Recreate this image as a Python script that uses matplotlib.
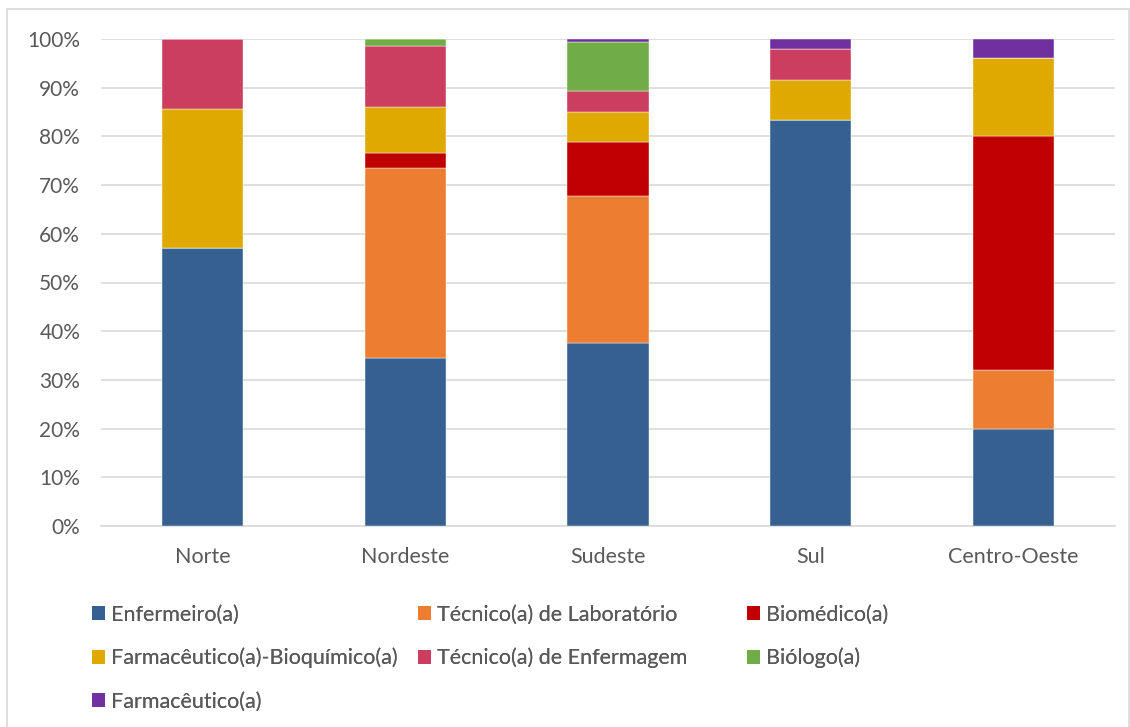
import numpy as np
import matplotlib.pyplot as plt
from matplotlib.patches import Rectangle, Patch
from matplotlib.ticker import PercentFormatter

plt.rcParams['font.family'] = ['Lato', 'DejaVu Sans']

regioes = ["Norte", "Nordeste", "Sudeste", "Sul", "Centro-Oeste"]

# participação de cada categoria profissional por região (%)
enfermeiro = [57.1, 34.4, 37.6, 83.3, 20.0]
tec_laboratorio = [0.0, 39.1, 30.2, 0.0, 12.0]
biomedico = [0.0, 3.1, 11.1, 0.0, 48.0]
farm_bioquimico = [28.6, 9.4, 6.1, 8.3, 16.0]
tec_enfermagem = [14.3, 12.5, 4.4, 6.3, 0.0]
biologo = [0.0, 1.5, 10.0, 0.0, 0.0]
farmaceutico = [0.0, 0.0, 0.6, 2.1, 4.0]

series = [
    ("Enfermeiro(a)", enfermeiro, "#36608F"),
    ("Técnico(a) de Laboratório", tec_laboratorio, "#ED7D31"),
    ("Biomédico(a)", biomedico, "#C00000"),
    ("Farmacêutico(a)-Bioquímico(a)", farm_bioquimico, "#DEA900"),
    ("Técnico(a) de Enfermagem", tec_enfermagem, "#CC3E5F"),
    ("Biólogo(a)", biologo, "#70AD47"),
    ("Farmacêutico(a)", farmaceutico, "#7030A0"),
]

W, H = 1130, 727
fig = plt.figure(figsize=(W / 100, H / 100), dpi=100)
ax = fig.add_axes([101 / W, (H - 526) / H, (1115 - 101) / W, (526 - 39) / H])

x = np.arange(len(regioes))
bottom = np.zeros(len(regioes))
handles = []
for nome, vals, cor in series:
    vals = np.array(vals)
    ax.bar(x, vals, width=0.4, bottom=bottom, color=cor, zorder=3,
           edgecolor="white", linewidth=0.3)
    bottom += vals
    handles.append(Patch(facecolor=cor, label=nome))

ax.set_xlim(-0.5, len(regioes) - 0.5)
ax.set_ylim(0, 100)
ax.set_yticks(np.arange(0, 101, 10))
ax.yaxis.set_major_formatter(PercentFormatter(decimals=0))
ax.set_xticks(x)
ax.set_xticklabels(regioes)
ax.grid(axis="y", color="#D9D9D9", linewidth=1.2, zorder=0)
for s in ["top", "right", "left"]:
    ax.spines[s].set_visible(False)
ax.spines["bottom"].set_color("#D9D9D9")
ax.spines["bottom"].set_linewidth(1.2)
ax.tick_params(axis="both", length=0, colors="#595959")
ax.tick_params(axis="y", pad=15, labelsize=15)
ax.tick_params(axis="x", pad=15, labelsize=15.5)

# legenda em três colunas de mesma largura, preenchidas linha a linha
colunas_x = [83, 409, 738]
for c, x0 in enumerate(colunas_x):
    hs = handles[c::3]
    leg = fig.legend(hs, [h.get_label() for h in hs],
                     loc="upper left", bbox_to_anchor=(x0 / W, 1 - 596 / H),
                     frameon=False, fontsize=15.5, labelcolor="#595959",
                     handlelength=0.6, handleheight=0.6, handletextpad=0.3,
                     labelspacing=1.08, borderaxespad=0)
    fig.add_artist(leg)

# moldura da área do gráfico
fig.patches.append(Rectangle((7 / W, -0.01), (W - 8) / W, 1 - 9 / H + 0.01,
                             transform=fig.transFigure, fill=False,
                             edgecolor="#D9D9D9", linewidth=1.2))

fig.savefig("out.png", dpi=100)
